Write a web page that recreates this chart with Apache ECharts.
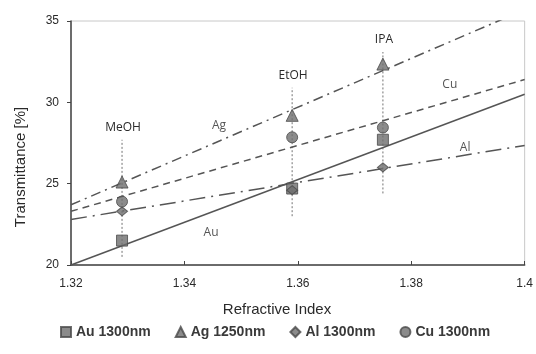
<!DOCTYPE html>
<html>
<head>
<meta charset="utf-8">
<script src="https://cdn.jsdelivr.net/npm/echarts@6/dist/echarts.min.js"></script>
<style>
  html, body { margin: 0; padding: 0; background: #fff; }
  #chart { width: 536px; height: 354px; }
</style>
</head>
<body>
<div id="chart"></div>
<script>
// 溶媒と屈折率
const solvents = ['MeOH', 'EtOH', 'IPA']
const refractiveIndex = [1.329, 1.359, 1.375]

// 各金属の透過率 [%]
const auValues = [21.5, 24.7, 27.7]
const agValues = [25.1, 29.2, 32.35]
const alValues = [23.3, 24.6, 26.0]
const cuValues = [23.9, 27.85, 28.45]

// 縦の点線 (ばらつき範囲)
const rangeLow = [20.5, 23.0, 24.4]
const rangeHigh = [27.7, 30.9, 33.1]

// 近似直線の両端
const fitX = [1.32, 1.4]
const auFit = [20.0, 30.5]
const agFit = [23.7, 35.7]
const alFit = [22.8, 27.35]
const cuFit = [23.3, 31.4]

// 軸
const xMin = 1.32
const xMax = 1.4
const xStep = 0.02
const yMin = 20
const yMax = 35
const yStep = 5

const markerColor = '#6e6e6e'
const markerBorder = '#4a4a4a'
const lineColor = '#555'
const textColor = '#2a2a2a'
const baseFont = 'Liberation Sans, Arial, sans-serif'
const noteFont = 'Open Sans, sans-serif'

const pts = vals => refractiveIndex.map((x, i) => [x, vals[i]])
const fit = vals => fitX.map((x, i) => [x, vals[i]])

const markerSeries = (name, symbol, size, vals) => ({
  name,
  type: 'scatter',
  symbol,
  symbolSize: size,
  z: 5,
  itemStyle: { color: markerColor, borderColor: markerBorder, borderWidth: 1 },
  data: pts(vals),
})

const fitSeries = (name, type, vals) => ({
  name,
  type: 'line',
  showSymbol: false,
  silent: true,
  z: 3,
  lineStyle: { color: lineColor, width: 1.5, type },
  data: fit(vals),
})

// 直線の名前ラベル
const lineLabels = [
  { name: 'Ag', value: [1.3461, 28.6] },
  { name: 'Cu', value: [1.3868, 31.1] },
  { name: 'Al', value: [1.3895, 27.2] },
  { name: 'Au', value: [1.3447, 22.0] },
]

const option = {
  backgroundColor: '#fff',
  animation: false,
  textStyle: { fontFamily: baseFont, color: textColor },
  grid: { left: 71, right: 10, top: 21, bottom: 89, show: true, borderColor: '#c8c8c8', borderWidth: 1 },
  // 軸タイトル (元図では中央からずれている)
  graphic: [
    {
      type: 'text',
      x: 21,
      y: 167,
      rotation: Math.PI / 2,
      style: { text: 'Transmittance [%]', fill: textColor, font: `15px ${baseFont}`, align: 'center', verticalAlign: 'middle' },
    },
    {
      type: 'text',
      x: 277,
      y: 310,
      style: { text: 'Refractive Index', fill: textColor, font: `15px ${baseFont}`, align: 'center', verticalAlign: 'middle' },
    },
  ],
  legend: {
    bottom: 10,
    left: 55,
    itemGap: 24,
    itemWidth: 10,
    itemHeight: 10,
    textStyle: { fontSize: 14, fontWeight: 'bold', color: '#3a3a3a', fontFamily: baseFont },
    data: [
      { name: 'Au 1300nm', icon: 'rect' },
      { name: 'Ag 1250nm', icon: 'triangle' },
      { name: 'Al 1300nm', icon: 'diamond' },
      { name: 'Cu 1300nm', icon: 'circle' },
    ],
  },
  xAxis: {
    type: 'value',
    min: xMin,
    max: xMax,
    interval: xStep,
    axisLine: { lineStyle: { color: '#444', width: 1.5 } },
    axisTick: { show: true, inside: true, length: 4, lineStyle: { color: '#444' } },
    axisLabel: { fontSize: 12, color: textColor, margin: 13, formatter: v => String(+v.toFixed(2)) },
    splitLine: { show: false },
  },
  yAxis: {
    type: 'value',
    min: yMin,
    max: yMax,
    interval: yStep,
    axisLine: { show: true, lineStyle: { color: '#444', width: 1.5 } },
    axisTick: { show: true, length: 4, lineStyle: { color: '#444' } },
    axisLabel: { fontSize: 12, color: textColor, margin: 12 },
    splitLine: { show: false },
  },
  series: [
    {
      name: 'range',
      type: 'custom',
      silent: true,
      z: 2,
      data: refractiveIndex.map((x, i) => [x, rangeLow[i], rangeHigh[i], i]),
      renderItem(params, api) {
        const lo = api.coord([api.value(0), api.value(1)])
        const hi = api.coord([api.value(0), api.value(2)])
        return {
          type: 'group',
          children: [
            {
              type: 'line',
              shape: { x1: lo[0], y1: lo[1], x2: hi[0], y2: hi[1] },
              style: { stroke: '#8a8a8a', lineWidth: 1.2, lineDash: [2, 2] },
            },
            {
              type: 'text',
              x: hi[0] + 1,
              y: hi[1] - 6,
              style: {
                text: solvents[api.value(3)],
                fill: textColor,
                font: `12px ${noteFont}`,
                align: 'center',
                verticalAlign: 'bottom',
              },
            },
          ],
        }
      },
    },
    fitSeries('Au fit', 'solid', auFit),
    fitSeries('Ag fit', [10, 5, 2, 5], agFit),
    fitSeries('Al fit', [16, 6, 2, 6], alFit),
    fitSeries('Cu fit', [7, 5], cuFit),
    {
      name: 'labels',
      type: 'scatter',
      symbolSize: 0,
      silent: true,
      label: {
        show: true,
        position: 'inside',
        formatter: '{b}',
        fontSize: 12,
        color: textColor,
        fontFamily: noteFont,
      },
      data: lineLabels,
    },
    markerSeries('Au 1300nm', 'rect', 11, auValues),
    markerSeries('Ag 1250nm', 'triangle', 12, agValues),
    markerSeries('Al 1300nm', 'diamond', [11, 9], alValues),
    markerSeries('Cu 1300nm', 'circle', 11, cuValues),
  ],
}

const chart = echarts.init(document.getElementById('chart'))
chart.setOption(option)
</script>
</body>
</html>
